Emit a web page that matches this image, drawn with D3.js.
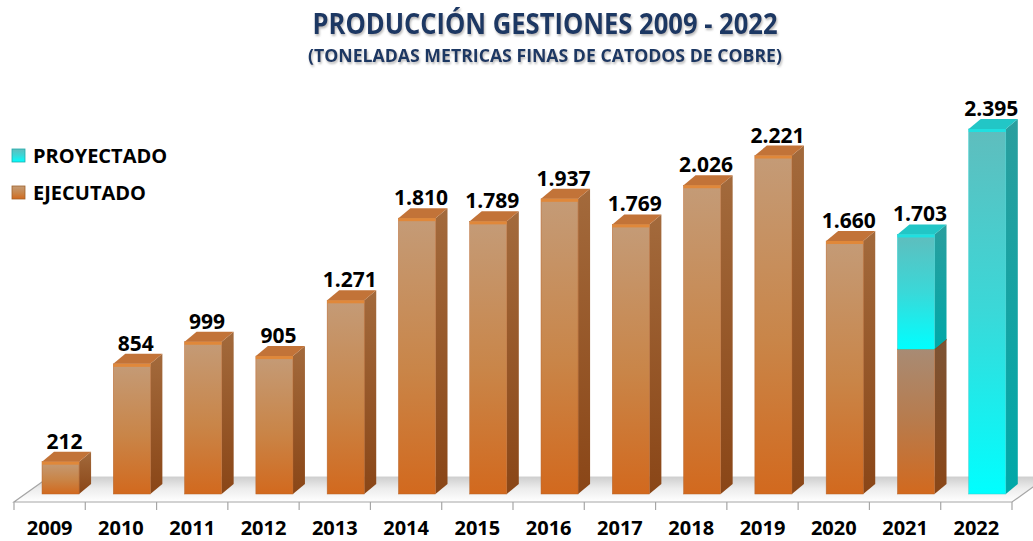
<!DOCTYPE html>
<html>
<head>
<meta charset="utf-8">
<script src="https://cdn.jsdelivr.net/npm/d3@7"></script>
<style>
  body { margin: 0; background: #fff; }
  svg { display: block; font-family: "Open Sans", sans-serif; }
</style>
</head>
<body>
<svg></svg>
<script>
// data
const years = ['2009', '2010', '2011', '2012', '2013', '2014', '2015', '2016', '2017', '2018', '2019', '2020', '2021', '2022'];
const ejecutado = [212, 854, 999, 905, 1271, 1810, 1789, 1937, 1769, 2026, 2221, 1660, 950, 0];
const proyectado = [0, 0, 0, 0, 0, 0, 0, 0, 0, 0, 0, 0, 753, 2395];
const seriesNames = ['EJECUTADO', 'PROYECTADO'];

const svg = d3.select('svg')
	.attr('width', 1033)
	.attr('height', 541);

const fmt = v => d3.format(',')(v).replace(/,/g, '.');

const data = years.map((y, i) => ({ year: y, EJECUTADO: ejecutado[i], PROYECTADO: proyectado[i] }));
const stacked = d3.stack().keys(seriesNames)(data);

const floorFront = 502,
	baseY = 494,
	depthX = 12,
	depthY = 10;

const xScale = d3.scaleBand()
	.domain(years)
	.range([14, 1012])
	.padding(0);

const yScale = d3.scaleLinear()
	.domain([0, 2500])
	.range([baseY, baseY - 2500 * 0.1524]);

const barOffset = xScale.bandwidth() * 0.393,
	barWidth = xScale.bandwidth() * 0.52;

// gradients
const defs = svg.append('defs');
const vGrad = (id, stops) => {
	const g = defs.append('linearGradient').attr('id', id)
		.attr('x1', 0).attr('y1', 0).attr('x2', 0).attr('y2', 1);
	stops.forEach(([o, c]) => g.append('stop').attr('offset', o).attr('stop-color', c));
};
vGrad('front-EJECUTADO', [[0, '#c49b77'], [0.55, '#c98548'], [1, '#d2691e']]);
vGrad('front-EJECUTADO-low', [[0, '#a88b74'], [0.5, '#b87b4c'], [1, '#d2691e']]);
vGrad('side-EJECUTADO', [[0, '#a36a3c'], [1, '#8a4617']]);
vGrad('side-EJECUTADO-low', [[0, '#7d5434'], [1, '#8a4617']]);
vGrad('front-PROYECTADO', [[0, '#5fbdbd'], [0.5, '#3ad8d8'], [1, '#00ffff']]);
vGrad('side-PROYECTADO', [[0, '#2a9e9e'], [1, '#00a8a8']]);
vGrad('floor', [[0, '#cfcfcf'], [0.45, '#ececec'], [1, '#ffffff']]);

const topColor = { EJECUTADO: '#c27338', PROYECTADO: '#22c6c6' };
const stripeColor = { EJECUTADO: '#e0883a', PROYECTADO: '#1fe0e0' };

defs.append('filter').attr('id', 'shadow')
	.attr('x', '-5%').attr('y', '-20%').attr('width', '110%').attr('height', '160%')
	.append('feDropShadow')
	.attr('dx', 1).attr('dy', 2).attr('stdDeviation', 1.2)
	.attr('flood-color', '#7f7f7f').attr('flood-opacity', 0.55);

// title
svg.append('text')
	.attr('x', 545)
	.attr('y', 34)
	.attr('text-anchor', 'middle')
	.attr('font-size', 28)
	.attr('font-weight', 'bold')
	.attr('fill', '#1f3864')
	.attr('textLength', 465)
	.attr('lengthAdjust', 'spacingAndGlyphs')
	.attr('filter', 'url(#shadow)')
	.text('PRODUCCIÓN GESTIONES 2009 - 2022');

svg.append('text')
	.attr('x', 545)
	.attr('y', 62)
	.attr('text-anchor', 'middle')
	.attr('font-size', 17)
	.attr('font-weight', 'bold')
	.attr('fill', '#1f3864')
	.attr('textLength', 474)
	.attr('lengthAdjust', 'spacingAndGlyphs')
	.attr('filter', 'url(#shadow)')
	.text('(TONELADAS METRICAS FINAS DE CATODOS DE COBRE)');

// floor
const fl = 14, fr = 1012, backY = 477, backDx = 35;
svg.append('path')
	.attr('d', `M${fl},${floorFront} L${fr},${floorFront} L${fr + backDx},${backY} L${fl + backDx},${backY} Z`)
	.attr('fill', 'url(#floor)')
	.attr('stroke', 'none');
svg.append('path')
	.attr('d', `M${fl + backDx},${backY} L${fl},${floorFront} L${fr},${floorFront} L${fr + backDx},${backY}`)
	.attr('fill', 'none')
	.attr('stroke', '#a6a6a6')
	.attr('stroke-width', 1.2);
svg.append('line')
	.attr('x1', fl + backDx).attr('x2', fr + backDx)
	.attr('y1', backY).attr('y2', backY)
	.attr('stroke', '#d0d0d0');

// x axis ticks and labels
const xAxis = d3.axisBottom(xScale)
	.tickSize(0)
	.tickPadding(19);
const xAxisG = svg.append('g')
	.attr('transform', `translate(0, ${floorFront})`)
	.call(xAxis);
xAxisG.select('.domain').remove();
xAxisG.selectAll('text')
	.attr('font-family', '"Open Sans", sans-serif')
	.attr('font-size', 20)
	.attr('font-weight', 'bold')
	.attr('fill', '#000');
const bounds = years.map(y => xScale(y)).concat([xScale.range()[1]]);
xAxisG.selectAll('.bound')
	.data(bounds)
	.enter().append('line')
	.attr('x1', d => d).attr('x2', d => d)
	.attr('y1', 0).attr('y2', 8)
	.attr('stroke', '#a6a6a6')
	.attr('stroke-width', 1.2);

// bars
const barsG = svg.append('g');
stacked.forEach(layer => {
	const key = layer.key;
	layer.forEach((seg, i) => {
		if (seg[1] - seg[0] <= 0) return;
		const x0 = xScale(years[i]) + barOffset,
			x1 = x0 + barWidth,
			yTop = yScale(seg[1]),
			yBot = yScale(seg[0]);
		const total = ejecutado[i] + proyectado[i];
		const isTop = seg[1] === total;
		const suffix = (!isTop && key === 'EJECUTADO') ? '-low' : '';
		const g = barsG.append('g');
		// side
		g.append('path')
			.attr('d', `M${x1},${yBot} L${x1 + depthX},${yBot - depthY} L${x1 + depthX},${yTop - depthY} L${x1},${yTop} Z`)
			.attr('fill', `url(#side-${key}${suffix})`);
		// front
		g.append('rect')
			.attr('x', x0).attr('y', yTop)
			.attr('width', barWidth).attr('height', yBot - yTop)
			.attr('fill', `url(#front-${key}${suffix})`)
			.attr('stroke', key === 'EJECUTADO' ? '#b8652a' : '#3cc')
			.attr('stroke-width', 0.5);
		// top face only on the highest segment
		if (isTop) {
			g.append('path')
				.attr('d', `M${x0},${yTop} L${x0 + depthX},${yTop - depthY} L${x1 + depthX},${yTop - depthY} L${x1},${yTop} Z`)
				.attr('fill', topColor[key]);
			g.append('rect')
				.attr('x', x0).attr('y', yTop)
				.attr('width', barWidth).attr('height', 3)
				.attr('fill', stripeColor[key]);
		} else {
			g.append('line')
				.attr('x1', x0).attr('x2', x1)
				.attr('y1', yTop).attr('y2', yTop)
				.attr('stroke', '#d2691e').attr('stroke-width', 1.5);
			g.append('line')
				.attr('x1', x1).attr('x2', x1 + depthX)
				.attr('y1', yTop).attr('y2', yTop - depthY)
				.attr('stroke', '#8a4617').attr('stroke-width', 1.5);
		}
	});
});

// value labels
svg.append('g').selectAll('text')
	.data(data)
	.enter().append('text')
	.attr('x', d => xScale(d.year) + barOffset + barWidth / 2 + 4)
	.attr('y', d => yScale(d.EJECUTADO + d.PROYECTADO) - 13)
	.attr('text-anchor', 'middle')
	.attr('font-size', 21)
	.attr('font-weight', 'bold')
	.attr('fill', '#000')
	.text(d => fmt(d.EJECUTADO + d.PROYECTADO));

// legend
const legend = svg.append('g').attr('transform', 'translate(12, 149)');
const legendItems = ['PROYECTADO', 'EJECUTADO'];
const legendRow = legend.selectAll('g')
	.data(legendItems)
	.enter().append('g')
	.attr('transform', (d, i) => `translate(0, ${i * 37})`);
legendRow.append('rect')
	.attr('width', 13).attr('height', 13)
	.attr('fill', d => `url(#front-${d})`)
	.attr('stroke', d => d === 'EJECUTADO' ? '#a0622a' : '#2aa')
	.attr('stroke-width', 0.8);
legendRow.append('text')
	.attr('x', 21)
	.attr('y', 13.5)
	.attr('font-size', 20)
	.attr('font-weight', 'bold')
	.attr('fill', '#000')
	.text(d => d);
</script>
</body>
</html>
